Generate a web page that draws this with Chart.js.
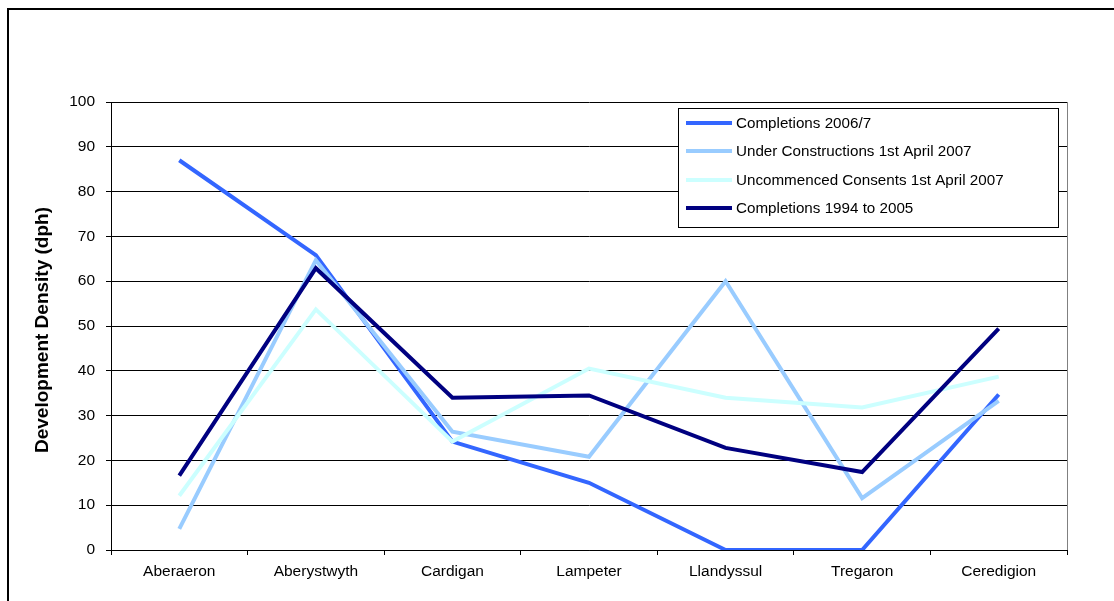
<!DOCTYPE html>
<html>
<head>
<meta charset="utf-8">
<script src="https://cdn.jsdelivr.net/npm/chart.js@4/dist/chart.umd.min.js"></script>
<style>
html,body{margin:0;padding:0;background:#fff;}
#wrap{width:1114px;height:601px;position:relative;}
</style>
</head>
<body>
<div id="wrap"><canvas id="c" width="1114" height="601"></canvas></div>
<script>
const categories = ["Aberaeron","Aberystwyth","Cardigan","Lampeter","Llandyssul","Tregaron","Ceredigion"];
const completions2006 = [87.0, 65.8, 24.2, 15.0, 0, 0, 34.7];
const underConstruction2007 = [4.7, 64.7, 26.4, 20.8, 60.0, 11.6, 33.3];
const uncommenced2007 = [12.1, 53.7, 24.2, 40.5, 34.0, 31.8, 38.7];
const completions1994to2005 = [16.6, 62.9, 34.0, 34.5, 22.8, 17.4, 49.4];
const seriesNames = ["Completions 2006/7","Under Constructions 1st April 2007","Uncommenced Consents 1st April 2007","Completions 1994 to 2005"];
const yTicks = [0,10,20,30,40,50,60,70,80,90,100];
const yTitle = "Development Density (dph)";

const colors = ["#3366FF","#99CCFF","#CCFFFF","#000080"];
const FONT = "'Liberation Sans', Arial, sans-serif";

const frame = {
  id:'frame',
  beforeDraw(chart){
    const ctx = chart.ctx;
    ctx.save();
    ctx.fillStyle = '#fff';
    ctx.fillRect(0,0,chart.width,chart.height);
    ctx.strokeStyle = '#000';
    ctx.lineWidth = 2;
    ctx.beginPath();
    ctx.moveTo(8, 601);
    ctx.lineTo(8, 9);
    ctx.lineTo(1114, 9);
    ctx.stroke();
    const a = chart.chartArea;
    ctx.strokeStyle = '#808080';
    ctx.lineWidth = 1;
    ctx.beginPath();
    ctx.moveTo(Math.round(a.right)+0.5, a.top);
    ctx.lineTo(Math.round(a.right)+0.5, a.bottom);
    ctx.stroke();
    // y axis title
    ctx.fillStyle = '#000';
    ctx.font = 'bold 19px ' + FONT;
    ctx.textAlign = 'center';
    ctx.textBaseline = 'middle';
    ctx.translate(43, 330);
    ctx.rotate(-Math.PI/2);
    ctx.fillText(yTitle, 0, 0);
    ctx.restore();
  }
};

const boxLegend = {
  id:'boxLegend',
  afterDraw(chart){
    const ctx = chart.ctx;
    const a = chart.chartArea;
    const x0 = a.right - 389, y0 = a.top + 6, w = 380, h = 119;
    ctx.save();
    ctx.fillStyle = '#fff';
    ctx.fillRect(x0, y0, w, h);
    ctx.strokeStyle = '#000';
    ctx.lineWidth = 1;
    ctx.strokeRect(x0+0.5, y0+0.5, w, h);
    ctx.font = '15.2px ' + FONT;
    ctx.textBaseline = 'middle';
    ctx.textAlign = 'left';
    const rowY = [15, 43, 72, 100];
    chart.data.datasets.forEach((ds, i) => {
      const yy = y0 + rowY[i];
      ctx.strokeStyle = ds.borderColor;
      ctx.lineWidth = 4;
      ctx.beginPath();
      ctx.moveTo(x0 + 8, yy);
      ctx.lineTo(x0 + 54, yy);
      ctx.stroke();
      ctx.fillStyle = '#000';
      ctx.fillText(ds.label, x0 + 58, yy + 1);
    });
    ctx.restore();
  }
};

const datasets = [completions2006, underConstruction2007, uncommenced2007, completions1994to2005].map((d,i)=>({
  label: seriesNames[i],
  data: d,
  borderColor: colors[i],
  backgroundColor: colors[i],
  borderWidth: 4,
  pointRadius: 0,
  pointHoverRadius: 0,
  tension: 0,
  fill: false
}));
datasets.forEach((ds,i)=>{ ds.order = 4 - i; });

new Chart(document.getElementById('c'), {
  type: 'line',
  data: { labels: categories, datasets },
  plugins: [frame, boxLegend],
  options: {
    responsive: false,
    animation: false,
    devicePixelRatio: 1,
    layout: { padding: { left: 0, top: 102, right: 47, bottom: 0 } },
    plugins: { legend: { display: false }, tooltip: { enabled: false } },
    scales: {
      x: {
        offset: true,
        grid: { offset: true, drawOnChartArea: false, color: '#000', tickLength: 5, lineWidth: 1 },
        border: { color: '#000', width: 1 },
        ticks: { color: '#000', font: { family: FONT, size: 15.5 }, padding: 7, maxRotation: 0, autoSkip: false },
        afterFit(scale){ scale.height = 51; }
      },
      y: {
        min: 0, max: 100,
        afterBuildTicks(scale){ scale.ticks = yTicks.map(v=>({value:v})); },
        grid: { color: '#000', tickLength: 5, lineWidth: 1 },
        border: { color: '#000', width: 1 },
        ticks: { color: '#000', font: { family: FONT, size: 15.5 }, padding: 11 },
        afterFit(scale){ scale.width = 111; }
      }
    }
  }
});
</script>
</body>
</html>
